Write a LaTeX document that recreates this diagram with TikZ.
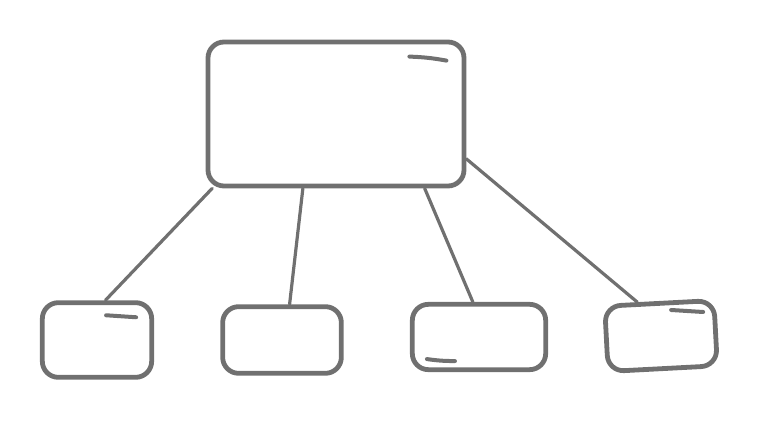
\documentclass[tikz,border=0pt]{standalone}
\usetikzlibrary{calc}
\definecolor{sketch}{HTML}{707070}
\begin{document}
\begin{tikzpicture}[x=0.75pt,y=-0.75pt,line cap=round,line join=round,
	box/.style={draw=sketch,line width=3.6pt,rounded corners=12pt,inner sep=0pt},
	link/.style={draw=sketch,line width=2.4pt},
	shine/.style={draw=sketch,line width=3pt}]
	\useasboundingbox (0,0) rectangle (757,423);
	% Khung chinh
	\node[box,minimum width=192pt,minimum height=108pt] (top) at (336,114) {};
	% Cac khung con
	\node[box,minimum width=82pt,minimum height=56pt] (b1) at (97,340) {};
	\node[box,minimum width=89pt,minimum height=50pt] (b2) at (282,340) {};
	\node[box,minimum width=100pt,minimum height=49pt] (b3) at (479,337) {};
	\node[box,minimum width=82pt,minimum height=49pt,rotate=3] (b4) at (661,336) {};
	% Duong noi
	\draw[link] (top.211) -- (b1.78);
	\draw[link] (top.246) -- (b2.78);
	\draw[link] (top.-40) -- (b3.100);
	\draw[link] (top.-19.5) -- (b4.122);
	% Vet sang
	\draw[shine] ($(top.north east)+(-57,17)$) to[bend left=4] ($(top.north east)+(-20,21)$);
	\draw[shine] ($(b1.north east)+(-48,15)$) -- ($(b1.north east)+(-18,17)$);
	\draw[shine] ($(b3.south west)+(17,-13)$) to[bend right=4] ($(b3.south west)+(45,-11)$);
	\draw[shine] ($(b4.north east)+(-45,12)$) -- ($(b4.north east)+(-13,14)$);
\end{tikzpicture}
\end{document}
